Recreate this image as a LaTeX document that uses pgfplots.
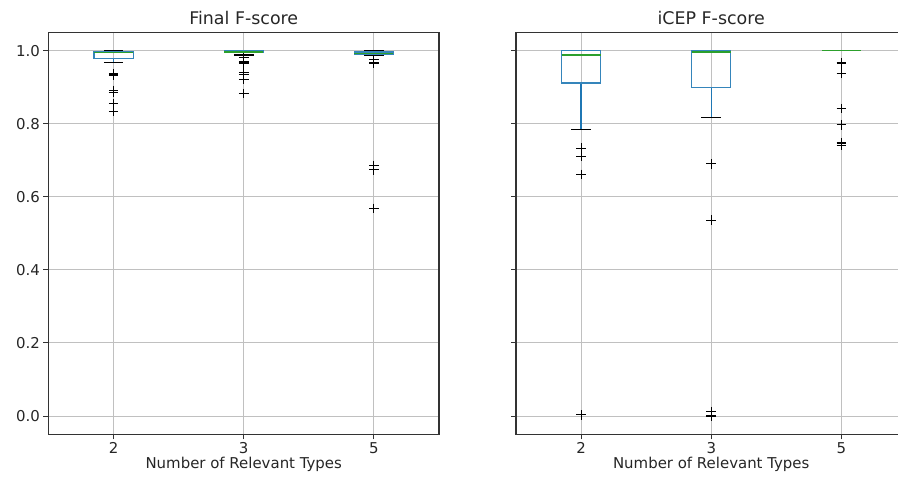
\documentclass[border=0pt]{standalone}
\usepackage{pgfplots}
\pgfplotsset{compat=1.18}
\usepgfplotslibrary{statistics}
\usepackage{fontspec}
\setmainfont{DejaVu Sans}
\definecolor{cbox}{HTML}{1F77B4}
\definecolor{cmed}{HTML}{2CA02C}
\definecolor{cgrid}{HTML}{B0B0B0}
\definecolor{caxis}{HTML}{333333}
\pgfplotsset{
  mybox/.style={
    scale only axis, width=390.5bp, height=402bp,
    xmin=0.5, xmax=3.5, ymin=-0.05, ymax=1.05,
    xtick={1,2,3}, xticklabels={2,3,5},
    ytick={0,0.2,0.4,0.6,0.8,1.0},
    grid=major, grid style={cgrid!80, line width=0.9bp},
    axis line style={line width=1.1bp, caxis},
    tick align=outside, major tick length=5bp,
    tick style={caxis, line width=1bp},
    xtick pos=bottom, ytick pos=left,
    ticklabel style={font=\fontsize{15}{18}\selectfont, text=black!85},
    yticklabel style={/pgf/number format/.cd, fixed, fixed zerofill, precision=1},
    /pgf/number format/assume math mode=true,
    title style={font=\fontsize{17.5}{20}\selectfont, text=black!85, yshift=-2bp},
    label style={font=\fontsize{15}{18}\selectfont, text=black!85},
    xlabel={Number of Relevant Types},
    xlabel style={yshift=4bp},
  },
  /pgfplots/boxplot/mine/.style={
    draw direction=y,
    box extend=0.3, whisker extend=0.15,
    every median/.style={cmed, line width=1.2bp},
    draw/lower whisker/.code={
      \draw[cbox, line width=1.2bp] (boxplot cs:\pgfplotsboxplotvalue{lower quartile}) -- (boxplot cs:\pgfplotsboxplotvalue{lower whisker});
      \draw[black, line width=1.2bp] (boxplot whisker cs:\pgfplotsboxplotvalue{lower whisker},0) -- (boxplot whisker cs:\pgfplotsboxplotvalue{lower whisker},1);
    },
    draw/upper whisker/.code={
      \draw[cbox, line width=1.2bp] (boxplot cs:\pgfplotsboxplotvalue{upper quartile}) -- (boxplot cs:\pgfplotsboxplotvalue{upper whisker});
      \draw[black, line width=1.2bp] (boxplot whisker cs:\pgfplotsboxplotvalue{upper whisker},0) -- (boxplot whisker cs:\pgfplotsboxplotvalue{upper whisker},1);
    },
  },
  /pgfplots/boxplot/flat/.style={
    draw/lower whisker/.code={}, draw/upper whisker/.code={}, draw/box/.code={},
  },
  bx/.style={draw=cbox!90, line width=1.2bp, solid, mark=+, mark size=4.8bp, mark options={black, line width=1.1bp}},
}
\begin{document}
\begin{tikzpicture}
\path[use as bounding box] (0,0) rectangle (898bp,-487bp);
\begin{axis}[mybox, at={(48.5bp,-32.3bp)}, anchor=north west, title={Final F-score}]
\addplot[bx, boxplot prepared={mine, draw position=1, lower whisker=0.967, lower quartile=0.978, median=0.995, upper quartile=0.997, upper whisker=1.0}]
  table[row sep=\\, y index=0] {0.936\\0.932\\0.891\\0.885\\0.855\\0.833\\};
\addplot[bx, boxplot prepared={mine, draw position=2, lower whisker=0.988, lower quartile=0.994, median=0.996, upper quartile=1.0, upper whisker=1.0}]
  table[row sep=\\, y index=0] {0.980\\0.971\\0.966\\0.939\\0.934\\0.922\\0.882\\};
\addplot[bx, boxplot prepared={mine, draw position=3, lower whisker=0.988, lower quartile=0.990, median=0.993, upper quartile=0.996, upper whisker=1.0}]
  table[row sep=\\, y index=0] {0.975\\0.966\\0.686\\0.674\\0.568\\};
\end{axis}
\begin{axis}[mybox, at={(516bp,-32.3bp)}, anchor=north west, title={iCEP F-score}, yticklabels={}]
\addplot[bx, boxplot prepared={mine, draw position=1, lower whisker=0.784, lower quartile=0.911, median=0.988, upper quartile=1.0, upper whisker=1.0}]
  table[row sep=\\, y index=0] {0.733\\0.710\\0.661\\0.003\\};
\addplot[bx, boxplot prepared={mine, draw position=2, lower whisker=0.816, lower quartile=0.898, median=0.996, upper quartile=1.0, upper whisker=1.0}]
  table[row sep=\\, y index=0] {0.690\\0.536\\0.012\\0.0\\};
\addplot[bx, boxplot prepared={mine, flat, draw position=3, lower whisker=1.0, lower quartile=1.0, median=1.0, upper quartile=1.0, upper whisker=1.0}]
  table[row sep=\\, y index=0] {0.966\\0.938\\0.841\\0.797\\0.747\\0.740\\};
\end{axis}
\end{tikzpicture}
\end{document}
